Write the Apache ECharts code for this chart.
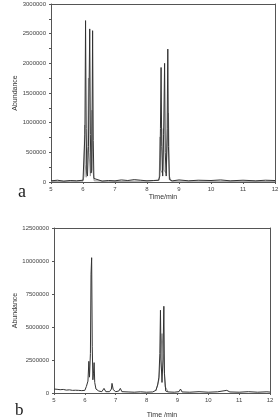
<!DOCTYPE html>
<html><head><meta charset="utf-8">
<script src="https://cdn.jsdelivr.net/npm/echarts@6/dist/echarts.min.js"></script>
<style>html,body{margin:0;padding:0;background:#fff}#c{width:280px;height:418px}</style>
</head><body><div id="c"></div>
<script>
// Chart a: main (dark) trace [time/min, abundance]
var aTraceMain = [
 [5.0,20000],[5.2,30000],[5.4,15000],[5.6,25000],[5.8,20000],[6.0,30000],[6.04,60000],
 [6.06,800000],[6.08,2720000],[6.10,900000],[6.12,150000],[6.14,100000],[6.17,600000],
 [6.21,2580000],[6.23,800000],[6.25,150000],[6.27,200000],[6.29,1500000],[6.30,2550000],
 [6.32,700000],[6.34,60000],[6.4,30000],[6.6,15000],[6.8,25000],[7.0,20000],[7.2,35000],
 [7.4,25000],[7.6,40000],[7.8,30000],[8.0,20000],[8.2,25000],[8.36,30000],[8.40,100000],
 [8.42,900000],[8.44,1930000],[8.46,600000],[8.49,100000],[8.52,800000],[8.55,2000000],
 [8.57,500000],[8.60,100000],[8.63,900000],[8.65,2240000],[8.67,600000],[8.70,40000],
 [8.8,20000],[9.0,35000],[9.3,20000],[9.6,30000],[10.0,25000],[10.3,35000],[10.6,20000],
 [11.0,30000],[11.4,20000],[11.7,30000],[12.0,25000]
];
// Chart a: secondary (grey) trace
var aTraceSecond = [
 [5.0,10000],[6.0,15000],[6.03,100000],[6.05,960000],[6.07,300000],[6.10,80000],
 [6.15,600000],[6.17,1750000],[6.19,500000],[6.23,100000],[6.26,400000],[6.28,1210000],
 [6.31,200000],[6.35,20000],[7.0,10000],[8.0,15000],[8.38,30000],[8.41,760000],
 [8.43,200000],[8.48,150000],[8.51,900000],[8.53,200000],[8.60,150000],[8.67,1160000],
 [8.70,100000],[8.75,15000],[12.0,10000]
];
// Chart b: main trace
var bTraceMain = [
 [5.0,300000],[5.1,280000],[5.2,250000],[5.3,270000],[5.4,220000],[5.5,240000],
 [5.6,200000],[5.7,210000],[5.75,300000],[5.8,200000],[5.9,180000],[6.0,200000],
 [6.05,500000],[6.10,900000],[6.13,2400000],[6.15,1200000],[6.18,3000000],[6.20,9000000],
 [6.22,10250000],[6.24,3500000],[6.26,1000000],[6.28,1500000],[6.30,2300000],[6.32,800000],
 [6.36,300000],[6.45,150000],[6.55,100000],[6.62,350000],[6.68,100000],[6.8,100000],
 [6.86,300000],[6.88,730000],[6.92,250000],[7.0,100000],[7.1,150000],[7.15,350000],
 [7.2,100000],[7.4,80000],[7.6,60000],[7.8,90000],[8.0,60000],[8.2,80000],[8.3,200000],
 [8.36,600000],[8.40,1200000],[8.43,3000000],[8.45,6270000],[8.47,2500000],[8.50,800000],
 [8.53,2500000],[8.56,6570000],[8.58,1500000],[8.62,150000],[8.7,80000],[8.9,60000],
 [9.05,100000],[9.1,300000],[9.15,80000],[9.4,60000],[9.7,100000],[10.0,60000],
 [10.3,90000],[10.6,200000],[10.7,80000],[11.0,60000],[11.3,100000],[11.6,60000],
 [11.9,90000],[12.0,70000]
];
// Chart b: secondary trace
var bTraceSecond = [
 [8.3,150000],[8.40,1000000],[8.46,3000000],[8.50,4500000],[8.54,3000000],[8.60,500000],[8.7,80000]
];
var aYTicks = [0,500000,1000000,1500000,2000000,2500000,3000000];
var bYTicks = [0,2500000,5000000,7500000,10000000,12500000];
var xTicks = [5,6,7,8,9,10,11,12];

var ax = {color:'#555', width:1};
var lab = {fontFamily:'Arial, Liberation Sans', fontSize:6, color:'#444'};
function xAxis(gi, name, gap){
  return {type:'value', gridIndex:gi, min:xTicks[0], max:xTicks[xTicks.length-1], interval:1,
    name:name, nameLocation:'middle', nameGap:gap, nameMoveOverlap:false,
    nameTextStyle:{fontFamily:'Arial, Liberation Sans', fontSize:7, color:'#333'},
    axisLine:{lineStyle:ax}, axisTick:{lineStyle:ax,length:2},
    axisLabel:Object.assign({margin:4, formatter:function(v){return String(v);}},lab), splitLine:{show:false}};
}
function yAxis(gi, ticks, gap, minor){
  return {type:'value', gridIndex:gi, min:ticks[0], max:ticks[ticks.length-1], interval:ticks[1]-ticks[0],
    name:'Abundance', nameLocation:'middle', nameGap:gap, nameRotate:90, nameMoveOverlap:false,
    nameTextStyle:{fontFamily:'Arial, Liberation Sans', fontSize:7, color:'#333'},
    axisLine:{lineStyle:ax}, axisTick:{lineStyle:ax,length:2},
    minorTick:{show:minor, splitNumber:2, length:2, lineStyle:ax},
    axisLabel:Object.assign({margin:5, formatter:function(v){return String(v);}},lab), splitLine:{show:false}};
}
function frameAxes(gi){
  return [{type:'value', gridIndex:gi, position:'top', min:5, max:12, axisLine:{onZero:false,lineStyle:ax}, axisTick:{show:false}, axisLabel:{show:false}, splitLine:{show:false}},
          {type:'value', gridIndex:gi, position:'right', min:0, max:1, axisLine:{lineStyle:ax}, axisTick:{show:false}, axisLabel:{show:false}, splitLine:{show:false}}];
}
var fa = frameAxes(0), fb = frameAxes(1);
var option = {
  animation:false,
  backgroundColor:'#fff',
  title:[
    {text:'a', left:13, top:178, textStyle:{fontFamily:'Liberation Serif, serif', fontSize:18, fontWeight:'normal', color:'#222'}},
    {text:'b', left:10, top:397, textStyle:{fontFamily:'Liberation Serif, serif', fontSize:17, fontWeight:'normal', color:'#222'}}
  ],
  grid:[
    {left:51, top:4, width:224, height:178, outerBoundsMode:'none', containLabel:false},
    {left:54, top:228, width:216, height:165, outerBoundsMode:'none', containLabel:false}
  ],
  xAxis:[xAxis(0,'Time/min',12), xAxis(1,'Time /min',19), fa[0], fb[0]],
  yAxis:[yAxis(0,aYTicks,32,true), yAxis(1,bYTicks,35,false), fa[1], fb[1]],
  series:[
    {type:'line', xAxisIndex:0, yAxisIndex:0, data:aTraceSecond, symbol:'none', lineStyle:{color:'#999',width:1}},
    {type:'line', xAxisIndex:0, yAxisIndex:0, data:aTraceMain, symbol:'none', lineStyle:{color:'#333',width:1}},
    {type:'line', xAxisIndex:1, yAxisIndex:1, data:bTraceSecond, symbol:'none', lineStyle:{color:'#999',width:1}},
    {type:'line', xAxisIndex:1, yAxisIndex:1, data:bTraceMain, symbol:'none', lineStyle:{color:'#333',width:1}}
  ]
};
echarts.init(document.getElementById('c')).setOption(option);
</script></body></html>
